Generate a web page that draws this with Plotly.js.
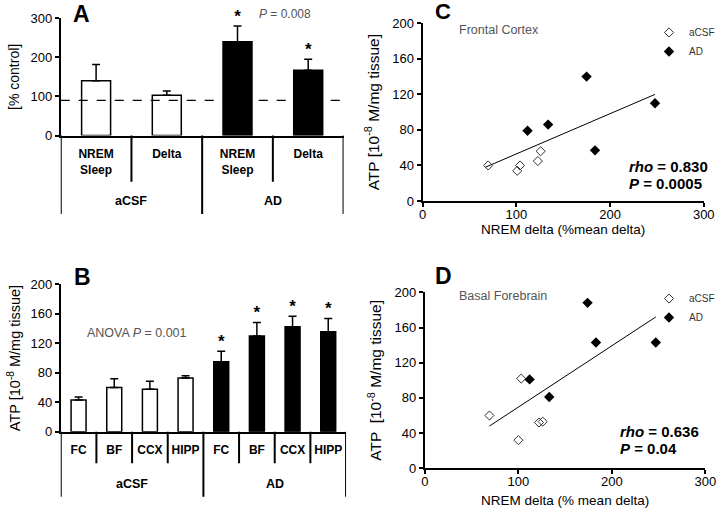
<!DOCTYPE html>
<html>
<head>
<meta charset="utf-8">
<script src="https://cdn.plot.ly/plotly-3.0.1.min.js"></script>
<style>html,body{margin:0;padding:0;background:#fff;}#chart{width:720px;height:519px;}</style>
</head>
<body>
<div id="chart"></div>
<script>
// ---------- DATA ----------
// Panel A
const catsA = ['NREM<br>Sleep', 'Delta', 'NREM<br>Sleep', 'Delta'];
const groupsA = ['aCSF', 'aCSF', 'AD', 'AD'];
const valsA = [140, 103, 240, 167];
const errA = [42, 11, 40, 28];
const sigA = [false, false, true, true];
const refLineA = 90;
// Panel B
const catsB = ['FC', 'BF', 'CCX', 'HIPP', 'FC', 'BF', 'CCX', 'HIPP'];
const groupsB = ['aCSF', 'aCSF', 'aCSF', 'aCSF', 'AD', 'AD', 'AD', 'AD'];
const valsB = [43, 60, 57.5, 73, 95, 130, 142.5, 135.5];
const errB = [4, 12, 11, 3, 14, 18, 14, 18];
const sigB = [false, false, false, false, true, true, true, true];
// Panel C (Frontal Cortex)
const acsfC_x = [70, 101, 104, 123, 126];
const acsfC_y = [40, 34, 40, 45, 56];
const adC_x = [112, 134, 175, 184, 248];
const adC_y = [79, 86, 140, 57, 110];
const trendC_x = [67, 248];
const trendC_y = [38, 120];
// Panel D (Basal Forebrain)
const acsfD_x = [69, 100, 103, 122, 126];
const acsfD_y = [60, 32, 102, 52, 53];
const adD_x = [112, 133, 174, 183, 247];
const adD_y = [101, 81, 188, 143, 143];
const trendD_x = [69, 247];
const trendD_y = [48, 172];

// ---------- HELPERS ----------
const FONT = 'Liberation Sans, Arial, sans-serif';
const W = 720, H = 519;
const py = p => 1 - p / H;
const px = p => p / W;
const fill = g => (g === 'AD' ? '#000' : '#fff');
const idx = arr => arr.map((_, i) => i);

function barTraces(cats, groups, vals, errs, sig, xa, ya, w) {
  const x = idx(cats);
  const bars = {
    type: 'bar', x: x, y: vals, xaxis: xa, yaxis: ya, width: w,
    marker: { color: groups.map(fill), line: { color: '#000', width: 1.5 } },
    error_y: { type: 'data', symmetric: false, array: errs, arrayminus: errs.map(() => 0),
               color: '#000', thickness: 1.5, width: 4 },
    showlegend: false, hoverinfo: 'skip'
  };
  const sx = [], sy = [];
  sig.forEach((s, i) => { if (s) { sx.push(i); sy.push(vals[i] + errs[i]); } });
  const stars = {
    type: 'scatter', mode: 'text', x: sx, y: sy, text: sx.map(() => '*'),
    textposition: 'top center', xaxis: xa, yaxis: ya,
    textfont: { family: FONT, size: 17, color: '#000', weight: 'bold' },
    showlegend: false, hoverinfo: 'skip', cliponaxis: false
  };
  return [bars, stars];
}

function scatterTraces(ax, ay, dx, dy, tx, ty, xa, ya, lg) {
  return [
    { type: 'scatter', mode: 'lines', x: tx, y: ty, xaxis: xa, yaxis: ya,
      line: { color: '#000', width: 1 }, showlegend: false, hoverinfo: 'skip' },
    { type: 'scatter', mode: 'markers', x: ax, y: ay, xaxis: xa, yaxis: ya, name: 'aCSF', legend: lg,
      marker: { symbol: 'diamond-open', size: 7, color: '#333', line: { width: 1, color: '#333' } }, cliponaxis: false },
    { type: 'scatter', mode: 'markers', x: dx, y: dy, xaxis: xa, yaxis: ya, name: 'AD', legend: lg,
      marker: { symbol: 'diamond', size: 8, color: '#000' }, cliponaxis: false }
  ];
}

function dividerShapes(groups, xref, axisPx, shortPx, longPx) {
  const out = [];
  const n = groups.length;
  for (let b = 0; b <= n; b++) {
    const isLong = (b === 0 || b === n || groups[b] !== groups[b - 1]);
    out.push({ type: 'line', xref: xref, yref: 'paper', x0: b - 0.5, x1: b - 0.5,
               y0: py(axisPx), y1: py(isLong ? longPx : shortPx),
               line: { color: '#000', width: 2 } });
  }
  return out;
}

function groupLabels(groups, xref, yPx) {
  const uniq = [...new Set(groups)];
  return uniq.map(g => {
    const ii = idx(groups).filter(i => groups[i] === g);
    const c = ii.reduce((a, b) => a + b, 0) / ii.length;
    return { text: g, xref: xref, yref: 'paper', x: c, y: py(yPx), showarrow: false,
             xanchor: 'center', yanchor: 'middle',
             font: { family: FONT, size: 12.5, color: '#000', weight: 'bold' } };
  });
}

function txt(text, xPx, yPx, size, opts) {
  return Object.assign({ text: text, xref: 'paper', yref: 'paper', x: px(xPx), y: py(yPx),
    xanchor: 'center', yanchor: 'middle',
    showarrow: false, font: { family: FONT, size: size, color: '#000' } }, opts || {});
}

// ---------- TRACES ----------
const traces = [
  ...barTraces(catsA, groupsA, valsA, errA, sigA, 'x', 'y', 0.41),
  ...barTraces(catsB, groupsB, valsB, errB, sigB, 'x2', 'y2', 0.42),
  ...scatterTraces(acsfC_x, acsfC_y, adC_x, adC_y, trendC_x, trendC_y, 'x3', 'y3', 'legend'),
  ...scatterTraces(acsfD_x, acsfD_y, adD_x, adD_y, trendD_x, trendD_y, 'x4', 'y4', 'legend2')
];

// ---------- AXES ----------
const lineAx = { showline: true, linecolor: '#000', linewidth: 2, showgrid: false, zeroline: false };
const catX = (cats, dom, anchor) => Object.assign({}, lineAx, {
  domain: dom, anchor: anchor, range: [-0.5, cats.length - 0.5], tickmode: 'array',
  tickvals: idx(cats), ticktext: cats, ticks: '', ticklabelstandoff: 6,
  tickfont: { family: FONT, size: 12, color: '#000', weight: 'bold' }
});
const valY = (dom, anchor, range, dtick, title, tsize, standoff) => Object.assign({}, lineAx, {
  domain: dom, anchor: anchor, range: range, dtick: dtick, ticks: 'outside', ticklen: 4, tickwidth: 2,
  tickcolor: '#000', tickfont: { family: FONT, size: 13, color: '#000' },
  title: { text: title, font: { family: FONT, size: tsize, color: '#000' }, standoff: standoff }
});
const numX = (dom, anchor, title, standoff) => Object.assign({}, lineAx, {
  domain: dom, anchor: anchor, range: [0, 300], dtick: 100, ticks: 'outside', ticklen: 4, tickwidth: 2,
  tickcolor: '#000', tickfont: { family: FONT, size: 13, color: '#000' }, ticklabelstandoff: -4,
  title: { text: title, font: { family: FONT, size: 13.5, color: '#000' }, standoff: standoff }
});

const atpTitle = 'ATP [10<sup>-8</sup> M/mg tissue]';

const layout = {
  width: W, height: H, margin: { l: 0, r: 0, t: 0, b: 0 },
  paper_bgcolor: '#fff', plot_bgcolor: 'rgba(0,0,0,0)',
  font: { family: FONT, color: '#000' },
  bargap: 0.5,
  xaxis: catX(catsA, [px(61), px(345)], 'y'),
  yaxis: valY([py(135.5), py(18.3)], 'x', [0, 300], 100, '[% control]', 14, 8),
  xaxis2: catX(catsB, [px(61), px(347.5)], 'y2'),
  yaxis2: valY([py(431.7), py(284.3)], 'x2', [0, 200], 40, atpTitle, 14.5, 6),
  xaxis3: numX([px(424.3), px(706.7)], 'y3', 'NREM delta (%mean delta)', 1),
  yaxis3: valY([py(201), py(23.3)], 'x3', [0, 200], 40, atpTitle, 15.5, 9),
  xaxis4: numX([px(426.7), px(708.3)], 'y4', 'NREM delta (% mean delta)', 8),
  yaxis4: valY([py(468.3), py(292.3)], 'x4', [0, 200], 40, 'ATP  [10<sup>-8</sup> M/mg tissue]', 15.5, 9),
  legend: { x: px(652), y: py(18), xanchor: 'left', yanchor: 'top', bgcolor: 'rgba(0,0,0,0)',
            font: { family: FONT, size: 10, color: '#333' }, itemwidth: 30, tracegroupgap: 0 },
  legend2: { x: px(652), y: py(284), xanchor: 'left', yanchor: 'top', bgcolor: 'rgba(0,0,0,0)',
             font: { family: FONT, size: 10, color: '#333' }, itemwidth: 30, tracegroupgap: 0 },
  shapes: [
    { type: 'line', xref: 'x domain', yref: 'y', x0: 0, x1: 1, y0: refLineA, y1: refLineA,
      line: { color: '#000', width: 1.2, dash: 'dash' } },
    ...dividerShapes(groupsA, 'x', 135.5, 181.7, 214),
    ...dividerShapes(groupsB, 'x2', 431.7, 463.3, 496.7)
  ],
  annotations: [
    ...groupLabels(groupsA, 'x', 201),
    ...groupLabels(groupsB, 'x2', 484),
    txt('<b>A</b>', 82, 14, 23),
    txt('<b>B</b>', 83, 277, 23),
    txt('<b>C</b>', 445, 12, 22),
    txt('<b>D</b>', 445, 276, 23),
    txt('<i>P</i> = 0.008', 286, 14, 12, { font: { family: FONT, size: 12, color: '#555' } }),
    txt('ANOVA <i>P</i> = 0.001', 137.5, 333, 12.5, { font: { family: FONT, size: 12.5, color: '#555' } }),
    txt('Frontal Cortex', 501, 30, 12.5, { font: { family: FONT, size: 12.5, color: '#555' } }),
    txt('Basal Forebrain', 505, 296, 12.5, { font: { family: FONT, size: 12.5, color: '#555' } }),
    txt('<b><i>rho</i> = 0.830</b>', 630, 166, 15, { xanchor: 'left' }),
    txt('<b><i>P</i> = 0.0005</b>', 630, 183, 15, { xanchor: 'left' }),
    txt('<b><i>rho</i> = 0.636</b>', 621, 431, 15, { xanchor: 'left' }),
    txt('<b><i>P</i> = 0.04</b>', 621, 448.5, 15, { xanchor: 'left' })
  ]
};

Plotly.newPlot('chart', traces, layout, { staticPlot: true, displayModeBar: false });
</script>
</body>
</html>
